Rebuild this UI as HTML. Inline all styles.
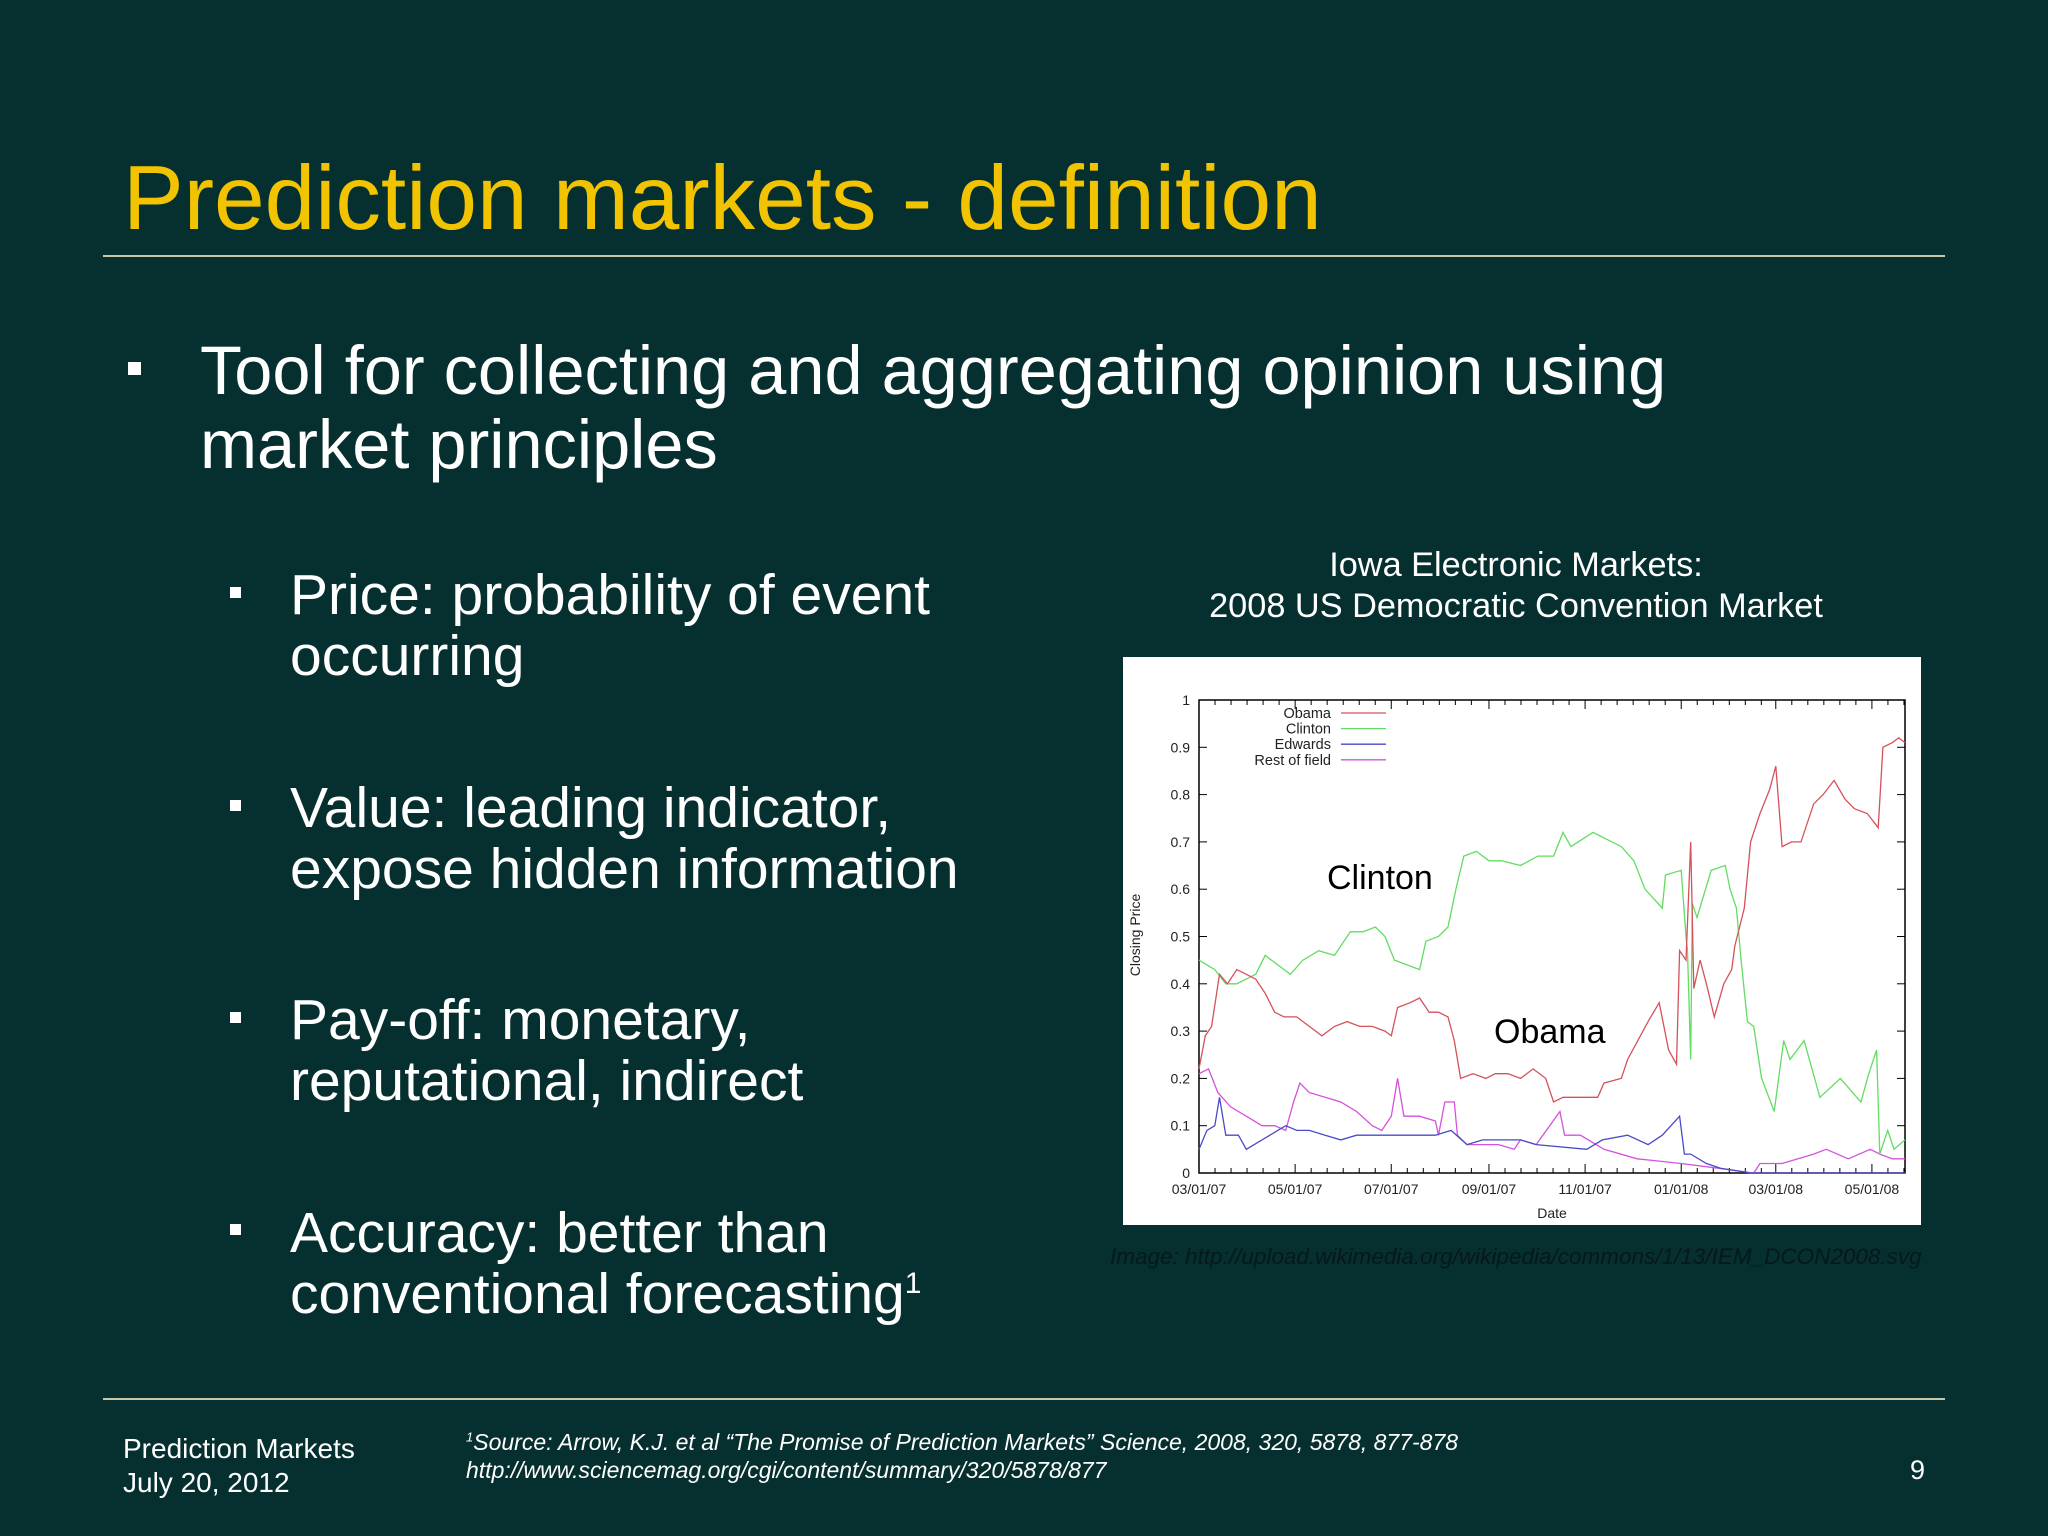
<!DOCTYPE html>
<html><head><meta charset="utf-8"><style>
body{margin:0;width:2048px;height:1536px;background:#06302f;overflow:hidden;font-family:"Liberation Sans",sans-serif;position:relative}
.a{position:absolute;white-space:nowrap}
.rule{position:absolute;left:103px;width:1842px;height:2px;background:#c9c7a4}
.sq{position:absolute;background:#fff}
.b1{color:#fff;font-size:68.5px;line-height:74px}
.b2{color:#fff;font-size:57px;line-height:61px}
sup{line-height:0}
</style></head><body>
<div class="a" style="left:123px;top:147px;font-size:91px;color:#f1c300">Prediction markets - definition</div>
<div class="rule" style="top:255px"></div>
<div class="sq" style="left:128px;top:362px;width:13px;height:13px"></div>
<div class="a b1" style="left:200px;top:334px">Tool for collecting and aggregating opinion using<br>market principles</div>

<div class="sq" style="left:230px;top:587px;width:11px;height:11px"></div>
<div class="a b2" style="left:290px;top:565px">Price: probability of event<br>occurring</div>
<div class="sq" style="left:230px;top:800px;width:11px;height:11px"></div>
<div class="a b2" style="left:290px;top:778px">Value: leading indicator,<br>expose hidden information</div>
<div class="sq" style="left:230px;top:1012px;width:11px;height:11px"></div>
<div class="a b2" style="left:290px;top:990px">Pay-off: monetary,<br>reputational, indirect</div>
<div class="sq" style="left:230px;top:1224px;width:11px;height:11px"></div>
<div class="a b2" style="left:290px;top:1203px">Accuracy: better than<br>conventional forecasting<sup style="font-size:30px">1</sup></div>

<div class="a" style="left:1116px;width:800px;top:545px;text-align:center;color:#fff;font-size:34.3px;line-height:41px">Iowa Electronic Markets:<br>2008 US Democratic Convention Market</div>

<svg class="a" style="left:0;top:0" width="2048" height="1536" id="chart">
<rect x="1123" y="657" width="798" height="568" fill="#fff"/>
</svg>

<div class="a" style="left:1110px;top:1244px;font-size:22.5px;font-style:italic;color:#07181a">Image: http://upload.wikimedia.org/wikipedia/commons/1/13/IEM_DCON2008.svg</div>
<div class="rule" style="top:1398px"></div>
<div class="a" style="left:123px;top:1432px;font-size:28px;line-height:34px;color:#fff">Prediction Markets<br>July 20, 2012</div>
<div class="a" style="left:466px;top:1428px;font-size:23px;line-height:28px;font-style:italic;color:#fff"><sup style="font-size:13px">1</sup>Source: Arrow, K.J. et al “The Promise of Prediction Markets” Science, 2008, 320, 5878, 877-878<br>http://www.sciencemag.org/cgi/content/summary/320/5878/877</div>
<div class="a" style="left:1910px;top:1455px;font-size:27px;color:#fff">9</div>

<script>
const tickDays=[0,61,122,184,245,306,366,427];
const tickLabels=["03/01/07","05/01/07","07/01/07","09/01/07","11/01/07","01/01/08","03/01/08","05/01/08"];
const yTicks=[0,0.1,0.2,0.3,0.4,0.5,0.6,0.7,0.8,0.9,1];
const yLabels=["0","0.1","0.2","0.3","0.4","0.5","0.6","0.7","0.8","0.9","1"];
const seriesNames=["Obama","Clinton","Edwards","Rest of field"];
const seriesColors=["#d5525a","#62dc62","#4a4ac8","#d452dc"];
const obamaDays=[0,4,8,13,18,24,30,36,42,48,54,62,70,78,86,94,102,110,118,122,126,134,140,146,152,158,162,166,174,182,188,196,204,212,220,225,231,240,253,257,268,272,285,292,298,303,305,309,312,314,318,322,327,333,338,340,346,350,356,362,366,370,376,382,390,396,403,410,416,424,431,434,440,444,448];
const obamaVals=[0.22,0.29,0.31,0.42,0.40,0.43,0.42,0.41,0.38,0.34,0.33,0.33,0.31,0.29,0.31,0.32,0.31,0.31,0.30,0.29,0.35,0.36,0.37,0.34,0.34,0.33,0.28,0.20,0.21,0.20,0.21,0.21,0.20,0.22,0.20,0.15,0.16,0.16,0.16,0.19,0.20,0.24,0.32,0.36,0.26,0.23,0.47,0.45,0.70,0.39,0.45,0.40,0.33,0.40,0.43,0.48,0.56,0.70,0.76,0.81,0.86,0.69,0.70,0.70,0.78,0.80,0.83,0.79,0.77,0.76,0.73,0.90,0.91,0.92,0.91];
const clintonDays=[0,5,10,17,24,30,36,42,50,58,66,76,86,96,104,112,118,124,132,140,144,152,158,163,168,176,184,192,204,215,225,231,236,250,268,276,283,294,296,306,309,310,312,313,316,325,334,337,341,344,348,352,357,365,371,375,384,394,407,420,425,430,432,437,441,448];
const clintonVals=[0.45,0.44,0.43,0.40,0.40,0.41,0.42,0.46,0.44,0.42,0.45,0.47,0.46,0.51,0.51,0.52,0.50,0.45,0.44,0.43,0.49,0.50,0.52,0.60,0.67,0.68,0.66,0.66,0.65,0.67,0.67,0.72,0.69,0.72,0.69,0.66,0.60,0.56,0.63,0.64,0.50,0.47,0.24,0.57,0.54,0.64,0.65,0.60,0.56,0.45,0.32,0.31,0.20,0.13,0.28,0.24,0.28,0.16,0.20,0.15,0.21,0.26,0.04,0.09,0.05,0.07];
const edwardsDays=[0,5,10,13,17,25,30,40,50,55,62,70,80,90,100,110,120,130,140,150,160,170,180,190,204,214,246,256,272,285,294,305,308,312,322,331,350,448];
const edwardsVals=[0.05,0.09,0.10,0.16,0.08,0.08,0.05,0.07,0.09,0.10,0.09,0.09,0.08,0.07,0.08,0.08,0.08,0.08,0.08,0.08,0.09,0.06,0.07,0.07,0.07,0.06,0.05,0.07,0.08,0.06,0.08,0.12,0.04,0.04,0.02,0.01,0.00,0.00];
const restDays=[0,6,12,20,30,40,48,55,60,64,70,80,90,100,110,116,122,126,130,140,150,152,156,162,164,170,180,190,200,204,214,229,232,242,257,278,306,330,352,356,370,390,398,412,426,432,440,448];
const restVals=[0.21,0.22,0.17,0.14,0.12,0.10,0.10,0.09,0.15,0.19,0.17,0.16,0.15,0.13,0.10,0.09,0.12,0.20,0.12,0.12,0.11,0.08,0.15,0.15,0.08,0.06,0.06,0.06,0.05,0.07,0.06,0.13,0.08,0.08,0.05,0.03,0.02,0.01,0.00,0.02,0.02,0.04,0.05,0.03,0.05,0.04,0.03,0.03];

const NS="http://www.w3.org/2000/svg";
const svg=document.getElementById('chart');
const X0=1199,X1=1905,Y0=1173,Y1=700,DMAX=448;
const xs=d=>X0+(X1-X0)*d/DMAX;
const ys=v=>Y0-(Y0-Y1)*v;
function mk(tag,attrs,text){const e=document.createElementNS(NS,tag);for(const k in attrs)e.setAttribute(k,attrs[k]);if(text!==undefined)e.textContent=text;svg.appendChild(e);return e;}
const frame=mk('rect',{x:X0,y:Y1,width:X1-X0,height:Y0-Y1,fill:'none',stroke:'#000','stroke-width':1.5});


yTicks.forEach((v,i)=>{
  mk('line',{x1:X0,x2:X0+8,y1:ys(v),y2:ys(v),stroke:'#000'});
  mk('line',{x1:X1,x2:X1-8,y1:ys(v),y2:ys(v),stroke:'#000'});
  const t=mk('text',{x:X0-9,y:ys(v)+5,'text-anchor':'end','font-size':14,fill:'#222'},yLabels[i]);
  
  
});
tickDays.forEach((d,i)=>{
  mk('line',{x1:xs(d),x2:xs(d),y1:Y0,y2:Y0-9,stroke:'#000'});
  mk('line',{x1:xs(d),x2:xs(d),y1:Y1,y2:Y1+9,stroke:'#000'});
  for(let k=1;k<6;k++){const dd=d+k*61/6;if(dd<DMAX){mk('line',{x1:xs(dd),x2:xs(dd),y1:Y0,y2:Y0-5,stroke:'#000'});mk('line',{x1:xs(dd),x2:xs(dd),y1:Y1,y2:Y1+5,stroke:'#000'});}}
  const t=mk('text',{x:xs(d),y:Y0+21,'text-anchor':'middle','font-size':14,fill:'#222'},tickLabels[i]);
  
  
});
const xt=mk('text',{x:(X0+X1)/2,y:1218,'text-anchor':'middle','font-size':14,fill:'#222'},'Date');


const yt=mk('text',{x:0,y:0,transform:'translate(1140,935) rotate(-90)','text-anchor':'middle','font-size':14,fill:'#222'},'Closing Price');


const allDays=[obamaDays,clintonDays,edwardsDays,restDays];
const allVals=[obamaVals,clintonVals,edwardsVals,restVals];
const order=[3,2,1,0];
order.forEach(i=>{
  const pts=allDays[i].map((d,j)=>xs(d).toFixed(1)+','+ys(allVals[i][j]).toFixed(1)).join(' ');
  const p=mk('polyline',{points:pts,fill:'none',stroke:seriesColors[i],'stroke-width':1.3});
  
  
});
seriesNames.forEach((n,i)=>{
  const y=713+i*15.6;
  const t=mk('text',{x:1331,y:y+5,'text-anchor':'end','font-size':14.5,fill:'#222'},n);
  
  
  mk('line',{x1:1341,x2:1386,y1:y,y2:y,stroke:seriesColors[i],'stroke-width':1.3});
});
const cl=mk('text',{x:1327,y:889,'font-size':34,fill:'#000'},'Clinton');


const ob=mk('text',{x:1494,y:1043,'font-size':34,fill:'#000'},'Obama');


</script>
</body></html>
